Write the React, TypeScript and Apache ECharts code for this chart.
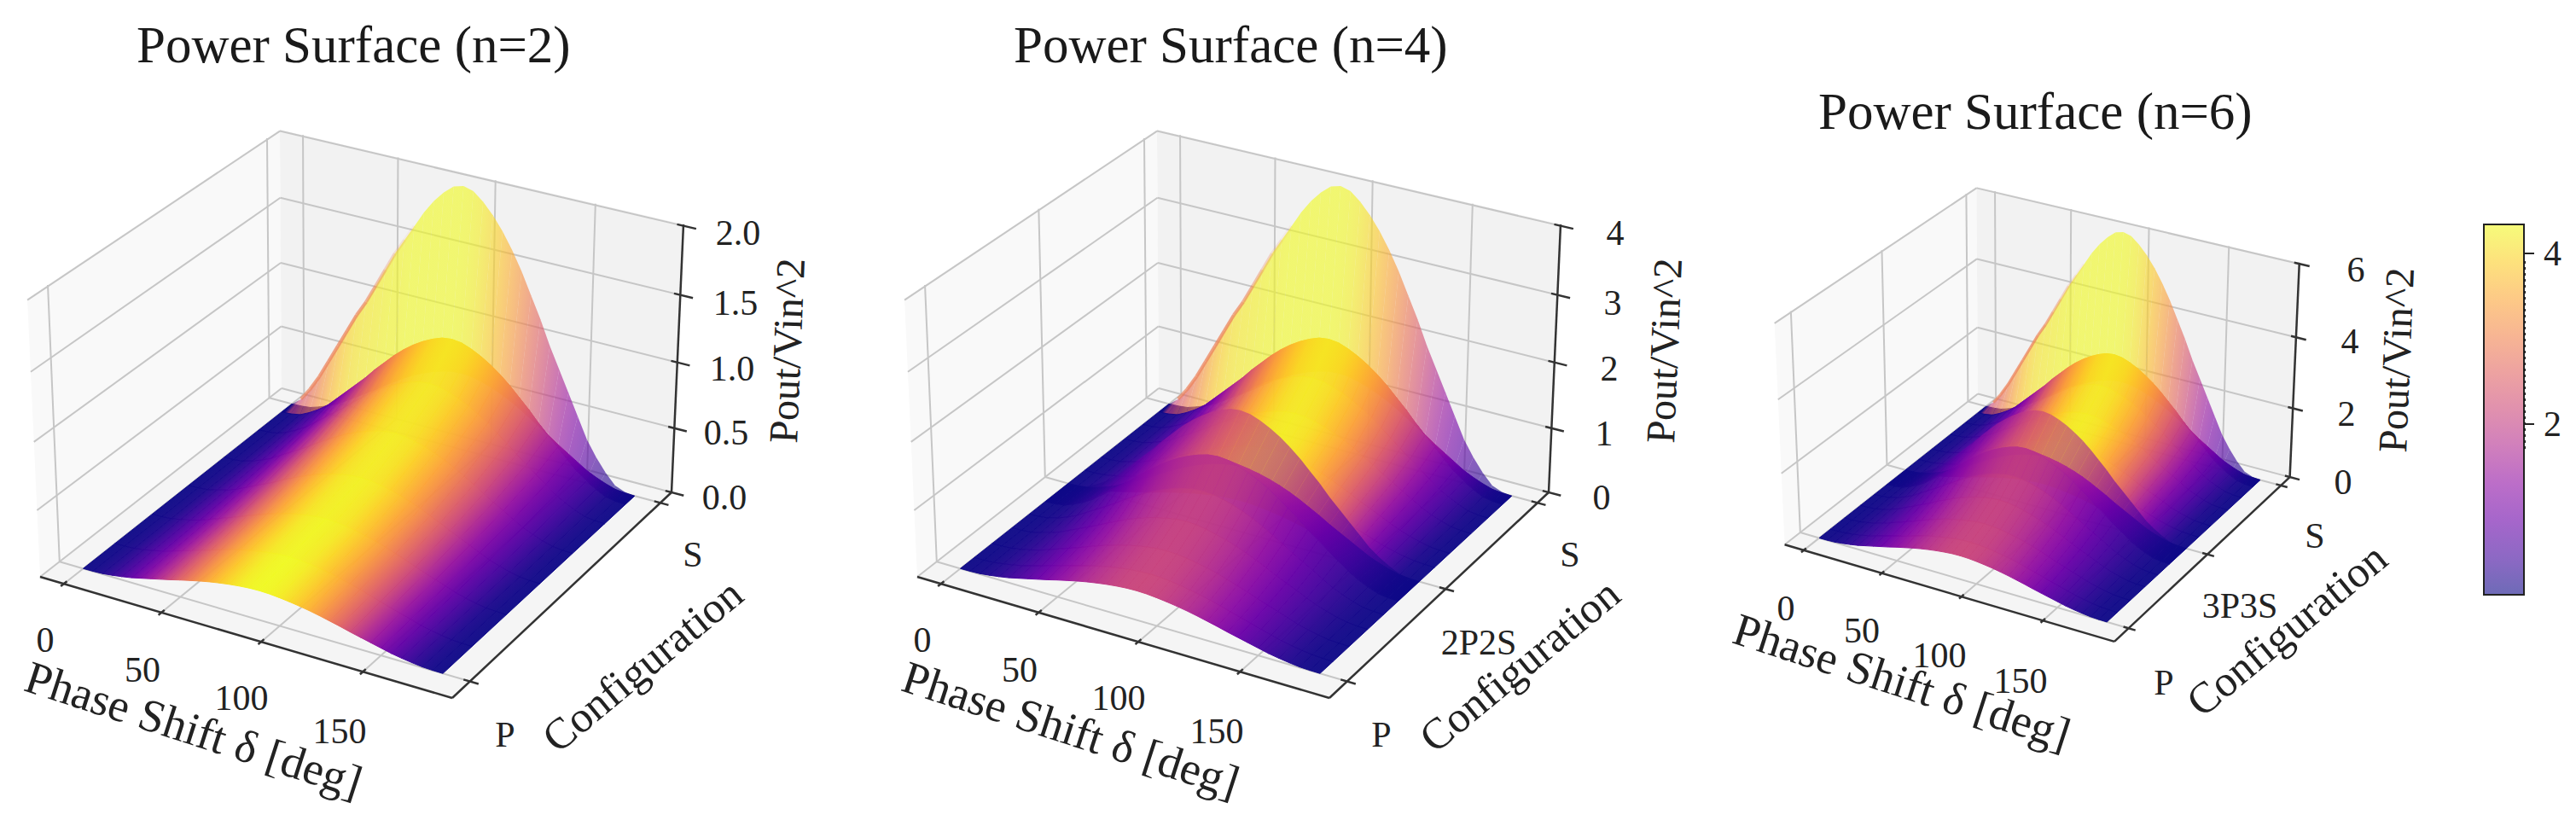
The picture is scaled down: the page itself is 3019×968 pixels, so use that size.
import React, { useEffect, useRef } from "react";
import * as echarts from "echarts";

// ---------- data ----------
const shapeDeltas = [0,5,10,15,20,25,30,35,40,45,50,55,60,65,70,75,80,85,90,95,100,105,110,115,120,125,130,135,140,145,150,155,160,165,170,175,180];
// surface height at each phase shift, as a fraction of the row's peak
const heightShape = [0,0.005,0.02,0.06,0.11,0.17,0.25,0.33,0.41,0.49,0.58,0.66,0.74,0.81,0.87,0.92,0.96,0.99,1,0.99,0.96,0.92,0.87,0.81,0.74,0.66,0.58,0.49,0.41,0.33,0.25,0.17,0.11,0.06,0.02,0.005,0];
// the tall S ridge rises earlier on its left flank
const ridgeShape = [0,0.03,0.08,0.14,0.21,0.28,0.35,0.42,0.48,0.55,0.62,0.69,0.75,0.81,0.87,0.92,0.96,0.99,1,0.99,0.96,0.92,0.87,0.81,0.74,0.66,0.58,0.49,0.41,0.33,0.25,0.17,0.11,0.06,0.02,0.005,0];
// colour position at each phase shift, as a fraction of the strip's tone
const toneShape = [0,0.01,0.03,0.07,0.12,0.18,0.25,0.33,0.41,0.5,0.59,0.67,0.75,0.82,0.88,0.93,0.97,0.99,1,0.99,0.97,0.93,0.88,0.82,0.75,0.67,0.59,0.5,0.41,0.33,0.25,0.18,0.12,0.07,0.03,0.01,0];
const ridgeTone = [0,0.5,0.6,0.68,0.76,0.84,0.9,0.94,0.96,0.97,0.98,0.99,0.99,1,1,1,1,1,1,0.99,0.97,0.93,0.88,0.82,0.75,0.67,0.59,0.5,0.41,0.33,0.25,0.18,0.12,0.07,0.03,0.01,0];
// opacity of the coral rim along the ridge's left flank, one value per 5 deg segment from 5 deg on
const ridgeRimAlpha = [0.7,0.75,0.75,0.75,0.75,0.75,0.7,0.6,0.45,0.3,0.18,0.08];

// rows, back to front: config position / row peak / tone of the strip in front of the row
const n2RowPos = [0.9,0.8,0.65,0.5,0.35,0.2,0.075];
const n2RowPeak = [0.92,0.72,0.55,0.43,0.34,0.28,0.22];
const n2StripTone = [0.95,0.96,0.97,0.98,0.99,1];
const n2BandPos = [0.945,0.9];
const n2BandPeak = [2.0,0.92];
const n2UnderPeak = [0.6,0.92];

const upperRowPos = [0.9,0.83,0.75,0.65,0.58,0.51];
const lowerRowPos = [0.415,0.35,0.28,0.2,0.13,0.075];
const upperBandPos = [0.945,0.9];
const lowerBandPos = [0.51,0.415];
const n4UpperPeak = [1.84,1.44,1.12,0.85,0.65,0.48];
const n4LowerPeak = [1.42,1.1,0.85,0.65,0.52,0.44];
const n4UpperBandPeak = [4.0,1.84];
const n4LowerBandPeak = [1.84,1.42];
const n4UpperUnderPeak = [1.2,1.84];
const n4LowerUnderPeak = [1.0,1.42];
const n6UpperPeak = [2.76,2.16,1.68,1.28,0.98,0.72];
const n6LowerPeak = [2.13,1.65,1.28,0.98,0.78,0.66];
const n6UpperBandPeak = [6.0,2.76];
const n6LowerBandPeak = [2.76,2.13];
const n6UpperUnderPeak = [1.8,2.76];
const n6LowerUnderPeak = [1.5,2.13];
const upperStripTone = [0.95,0.96,0.97,0.98,0.99];
const lowerStripTone = [0.44,0.46,0.47,0.48,0.49];
const upperBandTone = 1;
const lowerBandTone = 0.47;
const bandAlpha = 0.62;
const sheetAlpha = 0.96;

const deltaTicks = [0,50,100,150];
const zTicksN2 = [0,0.5,1,1.5,2];
const zTicksN4 = [0,1,2,3,4];
const zTicksN6 = [0,2,4,6];
const titles = ["Power Surface (n=2)","Power Surface (n=4)","Power Surface (n=6)"];
const colorbarMax = 4.34;
const colorbarTicks = [2,4];
const plasma = ["#0d0887","#41049d","#6a00a8","#8f0da4","#b12a90","#cc4778","#e16462","#f2844b","#fca636","#fcce25","#f0f921"];

// ---------- 3D box geometry ----------
type P = [number, number];
function homography(L: P, F: P, R: P, B: P) {
  const dx1 = F[0]-R[0], dx2 = B[0]-R[0], sx = L[0]-F[0]+R[0]-B[0];
  const dy1 = F[1]-R[1], dy2 = B[1]-R[1], sy = L[1]-F[1]+R[1]-B[1];
  const den = dx1*dy2-dx2*dy1;
  const g = (sx*dy2-dx2*sy)/den, h = (dx1*sy-sx*dy1)/den;
  const a = F[0]-L[0]+g*F[0], b = B[0]-L[0]+h*B[0], d = F[1]-L[1]+g*F[1], e = B[1]-L[1]+h*B[1];
  return (u: number, v: number): P => {
    const q = g*u+h*v+1;
    return [(a*u+b*v+L[0])/q, (d*u+e*v+L[1])/q];
  };
}
const floorH = homography([47,676],[530,818],[787,577],[330,455]);
const topH = homography([32,350],[533,483],[801,263],[328,152]);
const uOf = (delta: number) => 0.06 + delta*0.00487;
const wOf = (w: number) => w*(0.95+0.05*w);

type Strip = { v0:number; v1:number; p0:number; p1:number; tone:number; alpha:number; backShape?:number[]; tones?:number[] };
type Panel = { ox:number; oy:number; s:number; zTop:number; zTicks:number[]; configTicks:number[]; strips:Strip[] };

function strips(pos:number[], peak:number[], tone:number[], alpha:number, backShape?:number[], tones?:number[]):Strip[] {
  const out:Strip[] = [];
  for (let i=0;i<pos.length-1;i++) out.push({ v0:pos[i], v1:pos[i+1], p0:peak[i], p1:peak[i+1], tone:tone[i], alpha, backShape, tones });
  return out;
}
const panels: Panel[] = [
  { ox:0, oy:0, s:1, zTop:2.01, zTicks:zTicksN2, configTicks:[0.075,0.945], strips:[
    ...strips(n2BandPos,n2UnderPeak,[n2StripTone[0]],1),
    ...strips(n2BandPos,n2BandPeak,[upperBandTone],bandAlpha,ridgeShape,ridgeTone),
    ...strips(n2RowPos,n2RowPeak,n2StripTone,sheetAlpha)] },
  { ox:1028, oy:0, s:1, zTop:4.02, zTicks:zTicksN4, configTicks:[0.075,0.51,0.945], strips:[
    ...strips(upperBandPos,n4UpperUnderPeak,[upperStripTone[0]],1),
    ...strips(upperBandPos,n4UpperBandPeak,[upperBandTone],bandAlpha,ridgeShape,ridgeTone),
    ...strips(upperRowPos,n4UpperPeak,upperStripTone,sheetAlpha),
    ...strips(lowerBandPos,n4LowerUnderPeak,[lowerStripTone[0]],1),
    ...strips(lowerBandPos,n4LowerBandPeak,[lowerBandTone],bandAlpha),
    ...strips(lowerRowPos,n4LowerPeak,lowerStripTone,sheetAlpha)] },
  { ox:2054, oy:97.5, s:0.8, zTop:6.03, zTicks:zTicksN6, configTicks:[0.075,0.51,0.945], strips:[
    ...strips(upperBandPos,n6UpperUnderPeak,[upperStripTone[0]],1),
    ...strips(upperBandPos,n6UpperBandPeak,[upperBandTone],bandAlpha,ridgeShape,ridgeTone),
    ...strips(upperRowPos,n6UpperPeak,upperStripTone,sheetAlpha),
    ...strips(lowerBandPos,n6LowerUnderPeak,[lowerStripTone[0]],1),
    ...strips(lowerBandPos,n6LowerBandPeak,[lowerBandTone],bandAlpha),
    ...strips(lowerRowPos,n6LowerPeak,lowerStripTone,sheetAlpha)] },
];
function project(p: Panel, u:number, v:number, w:number): P {
  const f = floorH(u,v), t = topH(u,v), k = wOf(w);
  return [p.ox+p.s*(f[0]+(t[0]-f[0])*k), p.oy+p.s*(f[1]+(t[1]-f[1])*k)];
}
function plasmaColor(t:number) {
  const x = Math.max(0,Math.min(1,t))*(plasma.length-1);
  const i = Math.min(plasma.length-2,Math.floor(x)), f = x-i;
  const hex = (s:string,k:number)=>parseInt(s.substr(1+k*2,2),16);
  const c = [0,1,2].map(k=>Math.round(hex(plasma[i],k)*(1-f)+hex(plasma[i+1],k)*f));
  return `rgb(${c[0]},${c[1]},${c[2]})`;
}

// ---------- primitives ----------
type Prim = { kind:"poly"; pts:P[]; fill:string }
  | { kind:"line"; a:P; b:P; color:string; width:number; dash?:number[] }
  | { kind:"cell"; a:P; b:P; c:P; d:P; c0:string; c1:string; alpha:number };
const GRID = "#c6c6c6", AXIS = "#333333";
const prims: Prim[] = [];
panels.forEach((p)=>{
  const pj=(u:number,v:number,w:number)=>project(p,u,v,w);
  prims.push({kind:"poly",pts:[pj(0,0,0),pj(0,1,0),pj(0,1,1),pj(0,0,1)],fill:"#f9f9f9"});
  prims.push({kind:"poly",pts:[pj(0,1,0),pj(1,1,0),pj(1,1,1),pj(0,1,1)],fill:"#f2f2f2"});
  prims.push({kind:"poly",pts:[pj(0,0,0),pj(1,0,0),pj(1,1,0),pj(0,1,0)],fill:"#f5f5f5"});
  const line=(a:P,b:P,color=GRID,width=2)=>prims.push({kind:"line",a,b,color,width});
  deltaTicks.forEach(d=>{
    const u=uOf(d);
    line(pj(u,0,0),pj(u,1,0));
    line(pj(u,1,0),pj(u,1,1));
  });
  p.configTicks.forEach(v=>{
    line(pj(0,v,0),pj(1,v,0));
    line(pj(0,v,0),pj(0,v,1));
  });
  p.zTicks.forEach(z=>{
    const w=z/p.zTop;
    line(pj(0,0,w),pj(0,1,w));
    line(pj(0,1,w),pj(1,1,w));
  });
  p.strips.forEach(st=>{
    const back=st.backShape||heightShape, tn=st.tones||toneShape;
    for(let i=0;i<shapeDeltas.length-1;i++){
      const u0=uOf(shapeDeltas[i]),u1=uOf(shapeDeltas[i+1]);
      prims.push({kind:"cell",
        a:pj(u0,st.v0,st.p0*back[i]/p.zTop),
        b:pj(u1,st.v0,st.p0*back[i+1]/p.zTop),
        c:pj(u1,st.v1,st.p1*heightShape[i+1]/p.zTop),
        d:pj(u0,st.v1,st.p1*heightShape[i]/p.zTop),
        c0:plasmaColor(st.tone*tn[i]),c1:plasmaColor(st.tone*tn[i+1]),alpha:st.alpha});
    }
    if(st.backShape){
      ridgeRimAlpha.forEach((al,k)=>{
        const i=k+1;
        line(pj(uOf(shapeDeltas[i]),st.v0,st.p0*back[i]/p.zTop),pj(uOf(shapeDeltas[i+1]),st.v0,st.p0*back[i+1]/p.zTop),`rgba(236,132,92,${al})`,4*p.s);
      });
    }
  });
  line(pj(0,0,0),pj(1,0,0),AXIS,2.5);
  line(pj(1,0,0),pj(1,1,0),AXIS,2.5);
  line(pj(1,1,0),pj(1,1,1),AXIS,2.5);
  deltaTicks.forEach(d=>line(pj(uOf(d),-0.012,0),pj(uOf(d),0.012,0),AXIS,2.5));
  p.configTicks.forEach(v=>line(pj(0.985,v,0),pj(1.02,v,0),AXIS,2.5));
  p.zTicks.forEach(z=>line(pj(0.985,1,z/p.zTop),pj(1.03,1,z/p.zTop),AXIS,2.5));
});
prims.push({kind:"line",a:[2959,306],b:[2959,527],color:"#222222",width:2,dash:[3,4]});

const FONT = "Liberation Serif";
const INK = "#222222";
function label(text:string,x:number,y:number,size:number,deg=0){
  return { type:"text", x, y, rotation:deg*Math.PI/180, z:50,
    style:{ text, fill:INK, font:`${size}px "${FONT}"`, align:"center", verticalAlign:"middle" } };
}

function buildOption(){
  const graphic:any[] = [];
  const tick=42;
  const zLabels=[
    ["2.0",865,273],["1.5",862,355],["1.0",858,432],["0.5",851,507],["0.0",849,583],
    ["4",1893,273],["3",1890,355],["2",1886,432],["1",1880,508],["0",1877,583],
    ["6",2761,316],["4",2754,400],["2",2750,485],["0",2746,565],
  ] as [string,number,number][];
  zLabels.forEach(l=>graphic.push(label(l[0],l[1],l[2],tick)));
  const dLabels=(xy:number[][])=>deltaTicks.forEach((d,i)=>graphic.push(label(String(d),xy[i][0],xy[i][1],tick)));
  dLabels([[53,750],[167,785],[283,818],[398,857]]);
  dLabels([[1081,750],[1195,785],[1311,818],[1426,857]]);
  dLabels([[2093,713],[2182,739],[2273,768],[2368,798]]);
  graphic.push(label("Phase Shift δ [deg]",227,855,54,-18));
  graphic.push(label("Phase Shift δ [deg]",1255,855,54,-18));
  graphic.push(label("Phase Shift δ [deg]",2229,799,54,-18));
  [[753,780],[1781,780],[2680,738]].forEach(c=>graphic.push(label("Configuration",c[0],c[1],51,39.5)));
  [[922,411],[1950,411],[2808,422]].forEach(c=>graphic.push(label("Pout/Vin^2",c[0],c[1],48,87.6)));
  ([["P",592,861],["S",812,650],["P",1619,861],["2P2S",1733,753],["S",1840,650],["P",2536,800],["3P3S",2625,710],["S",2713,628]] as [string,number,number][])
    .forEach(l=>graphic.push(label(l[0],l[1],l[2],tick)));

  const renderItem=(params:any,api:any)=>{
    const m=prims[api.value(0)];
    const co=(q:P)=>api.coord(q);
    if(m.kind==="poly") return {type:"polygon",shape:{points:m.pts.map(co)},style:{fill:m.fill}};
    if(m.kind==="line"){
      const a=co(m.a),b=co(m.b);
      return {type:"line",shape:{x1:a[0],y1:a[1],x2:b[0],y2:b[1]},style:{stroke:m.color,lineWidth:m.width,lineDash:m.dash}};
    }
    const a=co(m.a),b=co(m.b),c=co(m.c),d=co(m.d);
    let ix=((d[0]-a[0])+(c[0]-b[0]))/2, iy=((d[1]-a[1])+(c[1]-b[1]))/2;
    const wx=b[0]-a[0], wy=b[1]-a[1];
    const ii=ix*ix+iy*iy||1, k=(wx*ix+wy*iy)/ii;
    let gx=wx-ix*k, gy=wy-iy*k;
    if(gx*gx+gy*gy<1){gx=wx;gy=wy;}
    const grad=new echarts.graphic.LinearGradient(a[0],a[1],a[0]+gx,a[1]+gy,[{offset:0,color:m.c0},{offset:1,color:m.c1}],true);
    const solid=m.alpha>0.9;
    return {type:"polygon",shape:{points:[a,b,c,d]},style:{fill:grad,stroke:solid?grad:"none",lineWidth:solid?1:0,opacity:m.alpha}};
  };

  return {
    animation:false,
    backgroundColor:"#ffffff",
    title:[
      {text:titles[0],left:160,top:22},
      {text:titles[1],left:1188,top:22},
      {text:titles[2],left:2131,top:100},
    ].map(t=>({...t,padding:0,textStyle:{fontFamily:FONT,fontSize:61,fontWeight:"normal",color:"#1a1a1a"}})),
    grid:[
      {left:0,top:0,width:3019,height:968,show:false},
      {left:2911,top:263,width:47,height:434,show:true,borderColor:"#222222",borderWidth:2,backgroundColor:"transparent",z:5},
    ],
    xAxis:[
      {type:"value",gridIndex:0,min:0,max:3019,show:false},
      {type:"category",gridIndex:1,data:["Pout/Vin^2"],show:false},
    ],
    yAxis:[
      {type:"value",gridIndex:0,min:0,max:968,inverse:true,show:false},
      {type:"value",gridIndex:1,position:"right",min:0,max:colorbarMax,
        axisLine:{show:true,lineStyle:{color:"#222222",width:2}},
        splitLine:{show:false},
        axisTick:{show:true,length:12,customValues:colorbarTicks,lineStyle:{color:"#222222",width:2}},
        axisLabel:{show:true,margin:23,customValues:colorbarTicks,fontFamily:FONT,fontSize:42,color:INK}},
    ],
    series:[
      {type:"custom",xAxisIndex:0,yAxisIndex:0,coordinateSystem:"cartesian2d",renderItem,
        data:prims.map((_,i)=>[i]),encode:{x:0},clip:false,silent:true,z:2},
      {type:"bar",xAxisIndex:1,yAxisIndex:1,data:[colorbarMax],barWidth:"100%",silent:true,z:3,
        itemStyle:{color:new echarts.graphic.LinearGradient(0,1,0,0,plasma.map((c,i)=>({offset:i/(plasma.length-1),color:c}))),opacity:0.6}},
    ],
    graphic,
  };
}

export default function App(){
  const ref=useRef<HTMLDivElement>(null);
  useEffect(()=>{
    document.body.style.margin="0";
    const chart=echarts.init(ref.current!,undefined,{renderer:"svg"});
    chart.setOption(buildOption() as any);
    return ()=>chart.dispose();
  },[]);
  return <div ref={ref} style={{width:3019,height:968}}/>;
}
